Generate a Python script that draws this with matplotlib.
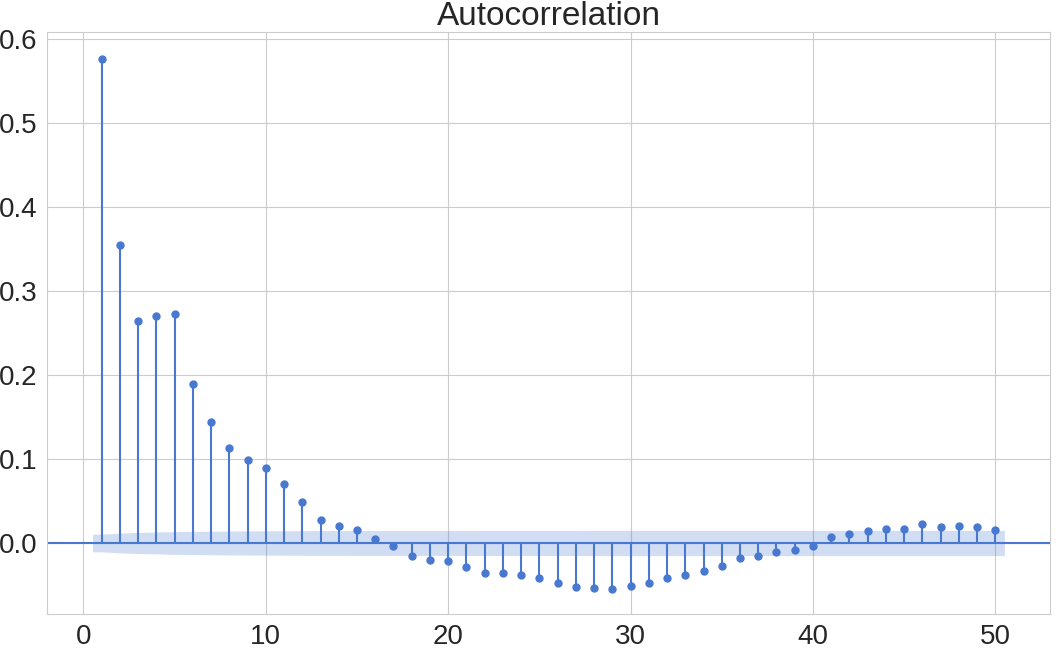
import matplotlib
matplotlib.use("Agg")
import matplotlib.pyplot as plt
import seaborn as sns
import numpy as np

lags = list(range(1, 51))
acf = [0.576, 0.355, 0.264, 0.270, 0.273, 0.189, 0.144, 0.113, 0.099, 0.089,
       0.070, 0.049, 0.027, 0.020, 0.015, 0.005, -0.004, -0.015, -0.020, -0.021,
       -0.029, -0.036, -0.036, -0.038, -0.042, -0.048, -0.052, -0.054, -0.055, -0.051,
       -0.048, -0.042, -0.038, -0.033, -0.027, -0.018, -0.015, -0.011, -0.008, -0.004,
       0.007, 0.011, 0.014, 0.017, 0.017, 0.023, 0.019, 0.020, 0.019, 0.015]
conf = [0.0105, 0.0118, 0.0125, 0.0130, 0.0135, 0.0138, 0.0140, 0.0142, 0.0143, 0.0144,
        0.0145, 0.0146, 0.0147, 0.0147, 0.0148, 0.0148, 0.0148, 0.0148, 0.0148, 0.0148,
        0.0148, 0.0149, 0.0149, 0.0149, 0.0149, 0.0149, 0.0149, 0.0150, 0.0150, 0.0150,
        0.0150, 0.0150, 0.0150, 0.0150, 0.0150, 0.0150, 0.0150, 0.0150, 0.0150, 0.0150,
        0.0150, 0.0150, 0.0150, 0.0150, 0.0150, 0.0150, 0.0150, 0.0150, 0.0150, 0.0150]

sns.set_style("whitegrid")
plt.rcParams['font.family'] = ['Liberation Sans', 'DejaVu Sans']
color = "#4878d0"

fig = plt.figure(figsize=(10.56, 6.52), dpi=100)
ax = fig.add_axes([47/1056, 1-614/652, 1003/1056, 582/652])

x = np.array(lags, dtype=float)
c = np.array(conf)
xb = np.concatenate([[x[0]-0.5], x, [x[-1]+0.5]])
cb = np.concatenate([[c[0]], c, [c[-1]]])
ax.fill_between(xb, -cb, cb, color=color, alpha=0.25, linewidth=0)
ax.axhline(0, color=color, linewidth=1.5)
ax.vlines(x, 0, acf, color=color, linewidth=1.5)
ax.plot(x, acf, 'o', color=color, markersize=5)

ax.set_xlim(-2, 53)
ax.set_ylim(-0.0845, 0.608)
ax.set_title("Autocorrelation", fontsize=24, pad=5)
ax.tick_params(labelsize=20)
for s in ax.spines.values():
    s.set_color("#cccccc")
fig.savefig("out.png", dpi=100)
